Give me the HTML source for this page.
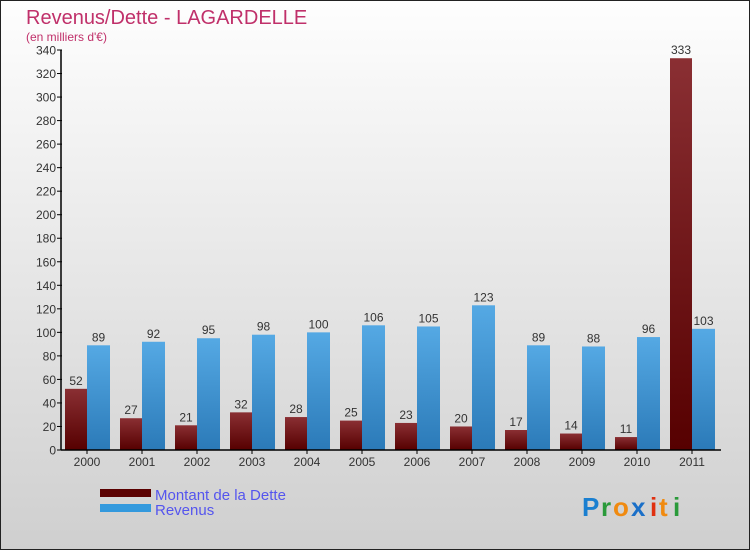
<!DOCTYPE html>
<html><head><meta charset="utf-8"><style>
body{margin:0}
svg text{font-family:"Liberation Sans",sans-serif}
</style></head><body>
<svg width="750" height="550" xmlns="http://www.w3.org/2000/svg">
<defs>
<linearGradient id="bg" x1="0" y1="0" x2="0" y2="1"><stop offset="0" stop-color="#fefefe"/><stop offset="1" stop-color="#cfcfcf"/></linearGradient>
<linearGradient id="gd" x1="0" y1="0" x2="0" y2="1"><stop offset="0" stop-color="#8a2f33"/><stop offset="1" stop-color="#560000"/></linearGradient>
<linearGradient id="gr" x1="0" y1="0" x2="0" y2="1"><stop offset="0" stop-color="#55a9e4"/><stop offset="1" stop-color="#2b7ab8"/></linearGradient>
</defs>
<rect x="0.5" y="0.5" width="749" height="549" fill="url(#bg)" stroke="#222"/>
<text x="26" y="24" font-size="20" fill="#c0306a">Revenus/Dette - LAGARDELLE</text>
<text x="26" y="41" font-size="12" fill="#c0306a">(en milliers d'€)</text>
<g id="plot"></g>
<rect x="100" y="489" width="51" height="8" fill="#5a0000"/>
<rect x="100" y="504" width="51" height="8" fill="#3399dd"/>
<text x="155" y="500" font-size="15" fill="#5555ee">Montant de la Dette</text>
<text x="155" y="515" font-size="15" fill="#5555ee">Revenus</text>
<g font-size="26" font-weight="bold">
<text x="582" y="516" fill="#1a7fd0">P</text><text x="601" y="516" fill="#2a9a3a">r</text><text x="613" y="516" fill="#f08a10">o</text><text x="631" y="516" fill="#1a6fc8">x</text><text x="650" y="516" fill="#e03010">i</text><text x="659" y="516" fill="#f08a10">t</text><text x="673" y="516" fill="#2a9a3a">i</text>
</g>
</svg>
<script>
const years=["2000","2001","2002","2003","2004","2005","2006","2007","2008","2009","2010","2011"];
const dette=[52,27,21,32,28,25,23,20,17,14,11,333];
const revenus=[89,92,95,98,100,106,105,123,89,88,96,103];
const yTicks=[0,20,40,60,80,100,120,140,160,180,200,220,240,260,280,300,320,340];
const NS="http://www.w3.org/2000/svg";
const g=document.getElementById('plot');
const x0=61,x1=721,y0=450,yTop=50,maxV=340;
const gw=(x1-x0)/years.length;
const yS=v=>y0-(v/maxV)*(y0-yTop);
function el(t,a,txt){const e=document.createElementNS(NS,t);for(const k in a)e.setAttribute(k,a[k]);if(txt!==undefined)e.textContent=txt;g.appendChild(e);return e;}
yTicks.forEach(v=>{
 const y=yS(v);
 const t=el('line',{x1:x0-4,x2:x0+1,y1:y,y2:y,stroke:'#000'});
 
 
 const l=el('text',{x:x0-5,y:y+4.5,'font-size':12,'text-anchor':'end',fill:'#333'},v);
 
 
});
years.forEach((yr,i)=>{
 const gx=x0+i*gw;
 const d=el('rect',{x:gx+4,y:yS(dette[i]),width:22,height:y0-yS(dette[i]),fill:'url(#gd)'});
 
 
 const r=el('rect',{x:gx+26,y:yS(revenus[i]),width:23,height:y0-yS(revenus[i]),fill:'url(#gr)'});
 
 
 const dl=el('text',{x:gx+15,y:yS(dette[i])-4,'font-size':12,'text-anchor':'middle',fill:'#333'},dette[i]);
 
 
 const rl=el('text',{x:gx+37.5,y:yS(revenus[i])-4,'font-size':12,'text-anchor':'middle',fill:'#333'},revenus[i]);
 
 
 const tk=el('line',{x1:gx+26,x2:gx+26,y1:y0,y2:y0+4,stroke:'#000'});
 
 
 const xl=el('text',{x:gx+26,y:y0+16,'font-size':12,'text-anchor':'middle',fill:'#333'},yr);
 
 
});
const ya=el('line',{x1:x0,x2:x0,y1:yTop,y2:y0,stroke:'#000','stroke-width':1.5});


const xa=el('line',{x1:x0,x2:x1,y1:y0,y2:y0,stroke:'#000','stroke-width':1.5});


</script>
</body></html>
